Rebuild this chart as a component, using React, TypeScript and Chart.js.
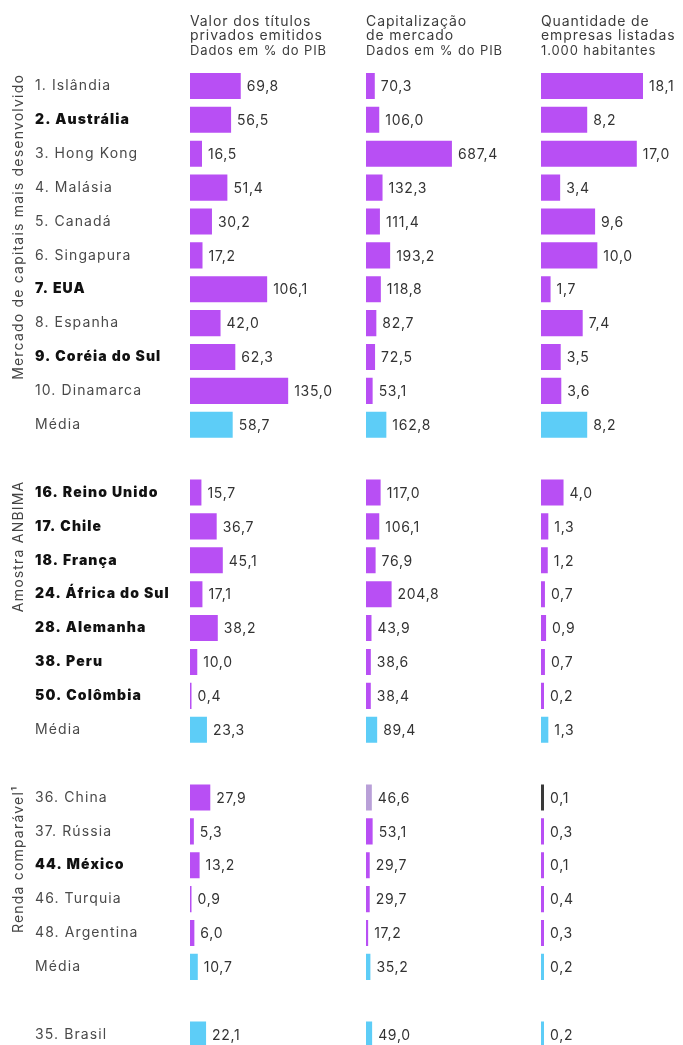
import React, { useEffect, useRef } from 'react';
import { Chart, registerables } from 'chart.js';

Chart.register(...registerables);

// ---------- DATA ----------
const groupNames = ['Mercado de capitais mais desenvolvido', 'Amostra ANBIMA', 'Renda comparável¹'];

const headerTitulos = ['Valor dos títulos', 'privados emitidos', 'Dados em % do PIB'];
const headerCapitalizacao = ['Capitalização', 'de mercado', 'Dados em % do PIB'];
const headerEmpresas = ['Quantidade de', 'empresas listadas', '1.000 habitantes'];

const g1Labels = ['1. Islândia', '2. Austrália', '3. Hong Kong', '4. Malásia', '5. Canadá', '6. Singapura', '7. EUA', '8. Espanha', '9. Coréia do Sul', '10. Dinamarca', 'Média'];
const g1Titulos = [69.8, 56.5, 16.5, 51.4, 30.2, 17.2, 106.1, 42.0, 62.3, 135.0, 58.7];
const g1Capitalizacao = [70.3, 106.0, 687.4, 132.3, 111.4, 193.2, 118.8, 82.7, 72.5, 53.1, 162.8];
const g1Empresas = [18.1, 8.2, 17.0, 3.4, 9.6, 10.0, 1.7, 7.4, 3.5, 3.6, 8.2];

const g2Labels = ['16. Reino Unido', '17. Chile', '18. França', '24. África do Sul', '28. Alemanha', '38. Peru', '50. Colômbia', 'Média'];
const g2Titulos = [15.7, 36.7, 45.1, 17.1, 38.2, 10.0, 0.4, 23.3];
const g2Capitalizacao = [117.0, 106.1, 76.9, 204.8, 43.9, 38.6, 38.4, 89.4];
const g2Empresas = [4.0, 1.3, 1.2, 0.7, 0.9, 0.7, 0.2, 1.3];

const g3Labels = ['36. China', '37. Rússia', '44. México', '46. Turquia', '48. Argentina', 'Média'];
const g3Titulos = [27.9, 5.3, 13.2, 0.9, 6.0, 10.7];
const g3Capitalizacao = [46.6, 53.1, 29.7, 29.7, 17.2, 35.2];
const g3Empresas = [0.1, 0.3, 0.1, 0.4, 0.3, 0.2];

const brasilLabels = ['35. Brasil'];
const brasilTitulos = [22.1];
const brasilCapitalizacao = [49.0];
const brasilEmpresas = [0.2];

const boldLabels = ['2. Austrália', '7. EUA', '9. Coréia do Sul', '16. Reino Unido', '17. Chile', '18. França', '24. África do Sul', '28. Alemanha', '38. Peru', '50. Colômbia', '44. México'];
const highlightLabels = ['Média', '35. Brasil'];

// ---------- STYLE ----------
const FONT = 'Inter, "Open Sans", sans-serif';
const PURPLE = '#b84ff4';
const CYAN = '#5dcdf7';
const CHINA_CAP = '#b9a0d8';
const CHINA_EMP = '#3a3a3a';

type Seg = { labels: string[]; t: number[]; c: number[]; e: number[]; group: number | null };
const segments: Seg[] = [
  { labels: g1Labels, t: g1Titulos, c: g1Capitalizacao, e: g1Empresas, group: 0 },
  { labels: g2Labels, t: g2Titulos, c: g2Capitalizacao, e: g2Empresas, group: 1 },
  { labels: g3Labels, t: g3Titulos, c: g3Capitalizacao, e: g3Empresas, group: 2 },
  { labels: brasilLabels, t: brasilTitulos, c: brasilCapitalizacao, e: brasilEmpresas, group: null },
];

const rowLabels: string[] = [];
const colT: (number | null)[] = [];
const colC: (number | null)[] = [];
const colE: (number | null)[] = [];
const groupStarts: number[] = [];
segments.forEach((s, si) => {
  if (si > 0) {
    rowLabels.push('');
    colT.push(null);
    colC.push(null);
    colE.push(null);
  }
  if (s.group !== null) groupStarts[s.group] = rowLabels.length;
  s.labels.forEach((l, i) => {
    rowLabels.push(l);
    colT.push(s.t[i]);
    colC.push(s.c[i]);
    colE.push(s.e[i]);
  });
});

const baseColors = rowLabels.map((l) => (highlightLabels.includes(l) ? CYAN : PURPLE));
const colorsT = baseColors.slice();
const colorsC = rowLabels.map((l, i) => (l === '36. China' ? CHINA_CAP : baseColors[i]));
const colorsE = rowLabels.map((l, i) => (l === '36. China' ? CHINA_EMP : baseColors[i]));

const fmt = (v: number) => v.toFixed(1).replace('.', ',');

const CANVAS_W = 683;
const CANVAS_H = 1060;

const textPlugin = {
  id: 'textPlugin',
  beforeDraw(chart: any) {
    chart.ctx.letterSpacing = '1.1px';
  },
  afterDatasetsDraw(chart: any) {
    const ctx = chart.ctx;
    ctx.save();
    ctx.letterSpacing = '0.7px';
    ctx.font = `400 14px ${FONT}`;
    ctx.fillStyle = '#333333';
    ctx.textBaseline = 'middle';
    ctx.textAlign = 'left';
    chart.data.datasets.forEach((ds: any, di: number) => {
      const meta = chart.getDatasetMeta(di);
      meta.data.forEach((el: any, i: number) => {
        const v = ds.data[i];
        if (v === null || v === undefined) return;
        ctx.fillText(fmt(v), el.x + 6, el.y + 1);
      });
    });
    ctx.restore();
  },
  afterDraw(chart: any) {
    const ctx = chart.ctx;
    ctx.save();
    // column headers
    const headers = [headerTitulos, headerCapitalizacao, headerEmpresas];
    const ids = ['x1', 'x2', 'x3'];
    ctx.fillStyle = '#3c3c3c';
    ctx.textAlign = 'left';
    ctx.textBaseline = 'alphabetic';
    ctx.letterSpacing = '0.9px';
    headers.forEach((h, hi) => {
      const x = chart.scales[ids[hi]].left;
      ctx.font = `400 14px ${FONT}`;
      ctx.fillText(h[0], x, 26);
      ctx.fillText(h[1], x, 40);
      ctx.font = `400 13px ${FONT}`;
      ctx.fillText(h[2], x, 55);
    });
    // rotated group labels
    const y = chart.scales.y;
    const slot = y.height / rowLabels.length;
    ctx.font = `400 14px ${FONT}`;
    ctx.fillStyle = '#444444';
    ctx.textAlign = 'right';
    ctx.textBaseline = 'middle';
    ctx.letterSpacing = '1.2px';
    groupNames.forEach((g, gi) => {
      const top = y.getPixelForValue(groupStarts[gi]) - slot / 2 + 5;
      ctx.save();
      ctx.translate(19, top);
      ctx.rotate(-Math.PI / 2);
      ctx.fillText(g, 0, 0);
      ctx.restore();
    });
    ctx.restore();
  },
};

export default function App() {
  const ref = useRef<HTMLCanvasElement | null>(null);

  useEffect(() => {
    if (!ref.current) return;
    const common = {
      barPercentage: 0.77,
      categoryPercentage: 1,
      grouped: false,
      borderWidth: 0,
    };
    const chart = new Chart(ref.current, {
      type: 'bar',
      data: {
        labels: rowLabels,
        datasets: [
          { ...common, minBarLength: 1.5, label: 'Valor dos títulos', data: colT, xAxisID: 'x1', backgroundColor: colorsT },
          { ...common, minBarLength: 2, label: 'Capitalização', data: colC, xAxisID: 'x2', backgroundColor: colorsC },
          { ...common, minBarLength: 3, label: 'Empresas', data: colE, xAxisID: 'x3', backgroundColor: colorsE },
        ] as any,
      },
      options: {
        indexAxis: 'y',
        animation: false,
        responsive: false,
        devicePixelRatio: 1,
        layout: { padding: { top: 69, left: 35, right: 0, bottom: 8 } },
        plugins: { legend: { display: false }, tooltip: { enabled: false } },
        scales: {
          y: {
            type: 'category',
            position: 'left',
            offset: true,
            grid: { display: false },
            border: { display: false },
            ticks: {
              autoSkip: false,
              crossAlign: 'far',
              padding: 0,
              color: (c: any) => (boldLabels.includes(rowLabels[c.index]) ? '#111111' : '#4a4a4a'),
              font: (c: any) => ({
                family: FONT,
                size: 14,
                weight: boldLabels.includes(rowLabels[c.index]) ? '900' : '400',
              }),
            },
            afterFit: (s: any) => {
              s.width = 155;
            },
          },
          x1: { type: 'linear', position: 'bottom', display: false, min: 0, max: 242, stack: 'cols', stackWeight: 176 },
          x2: { type: 'linear', position: 'bottom', display: false, min: 0, max: 1400, stack: 'cols', stackWeight: 175 },
          x3: { type: 'linear', position: 'bottom', display: false, min: 0, max: 25.2, stack: 'cols', stackWeight: 142 },
        } as any,
      },
      plugins: [textPlugin],
    });
    return () => chart.destroy();
  }, []);

  return (
    <div style={{ position: 'absolute', left: 0, top: 0, width: CANVAS_W, height: 1045, overflow: 'hidden', background: '#fff' }}>
      <canvas ref={ref} width={CANVAS_W} height={CANVAS_H} style={{ width: CANVAS_W, height: CANVAS_H, display: 'block' }} />
    </div>
  );
}
